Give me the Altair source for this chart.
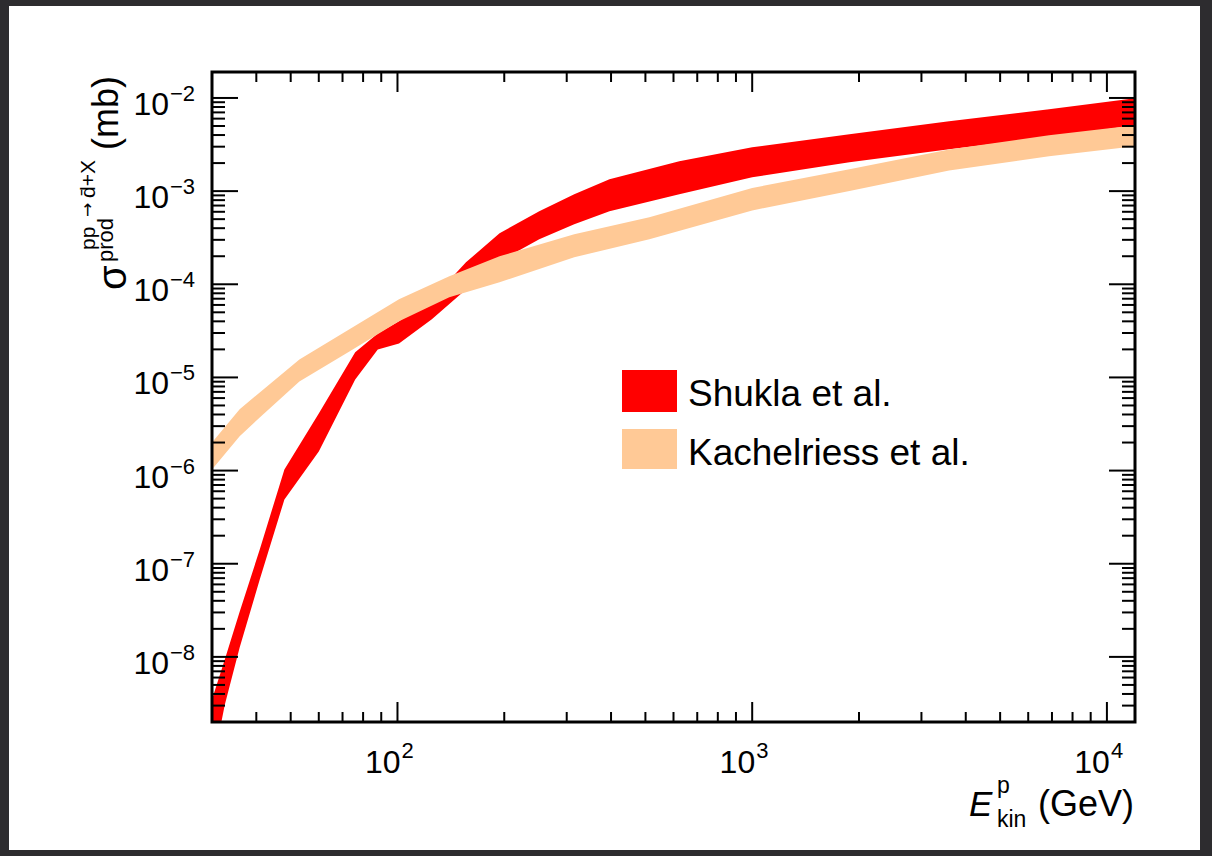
import altair as alt
import pandas as pd

SERIES = ["Shukla et al.", "Kachelriess et al."]
COLORS = ["#ff0000", "#ffc996"]

# Shukla et al. band (E in GeV, sigma in mb)
SH_E = [30, 32.6, 35.9, 40.9, 48, 60, 76, 88, 101, 125, 156, 194, 251, 315, 396, 623, 1000, 1880, 3590, 6870, 12000]
SH_HI = [3.48e-9, 9.35e-9, 3.06e-8, 1.42e-7, 1.03e-6, 4.11e-6, 1.86e-5, 2.97e-5, 4.0e-5, 6.9e-5, 1.72e-4,
         3.53e-4, 6.08e-4, 9.26e-4, 1.34e-3, 2.09e-3, 2.96e-3, 4.08e-3, 5.64e-3, 7.58e-3, 9.95e-3]
SH_LO = [6.2e-10, 3.07e-9, 1.26e-8, 6.76e-8, 4.9e-7, 1.6e-6, 9.5e-6, 2.0e-5, 2.32e-5, 4.2e-5, 8.8e-5,
         1.77e-4, 3.04e-4, 4.41e-4, 6.08e-4, 9.26e-4, 1.41e-3, 2.04e-3, 2.82e-3, 3.79e-3, 5.1e-3]

# Kachelriess et al. band
KA_E = [30, 35.9, 40.9, 52.9, 73.2, 101, 140, 194, 315, 513, 1000, 1880, 3590, 6870, 12000]
KA_HI = [2.0e-6, 4.54e-6, 6.9e-6, 1.56e-5, 3.28e-5, 6.9e-5, 1.22e-4, 2.0e-4, 3.44e-4, 5.24e-4,
         1.08e-3, 1.72e-3, 2.8e-3, 3.98e-3, 5.1e-3]
KA_LO = [1.03e-6, 2.33e-6, 3.72e-6, 9.06e-6, 1.9e-5, 4.0e-5, 7.24e-5, 1.05e-4, 1.95e-4, 3.04e-4,
         6.2e-4, 1.0e-3, 1.66e-3, 2.37e-3, 3.03e-3]

X_DOMAIN = [30, 12000]
Y_DOMAIN = [2e-9, 1.9e-2]
X_MAJOR = [100, 1000, 10000]
X_EXP = ["2", "3", "4"]
Y_MAJOR = [1e-2, 1e-3, 1e-4, 1e-5, 1e-6, 1e-7, 1e-8]
Y_EXP = ["\u22122", "\u22123", "\u22124", "\u22125", "\u22126", "\u22127", "\u22128"]
X_MINOR = [m * 10 ** d for d in (1, 2, 3) for m in range(2, 10) if X_DOMAIN[0] < m * 10 ** d < X_DOMAIN[1]]
Y_MINOR = [m * 10.0 ** d for d in range(-9, -1) for m in range(2, 10) if Y_DOMAIN[0] * 1.0001 < m * 10.0 ** d < Y_DOMAIN[1]]

W, H = 923, 650
FONT = "Liberation Sans"

xs = alt.Scale(type="log", domain=X_DOMAIN, nice=False)
ys = alt.Scale(type="log", domain=Y_DOMAIN, nice=False)
cs = alt.Scale(domain=SERIES, range=COLORS)

one = pd.DataFrame({"a": [0]})

panel = alt.Chart(one).mark_rect(color="white").encode(
    x=alt.value(-203), x2=alt.value(988), y=alt.value(-66), y2=alt.value(778))

def band(E, hi, lo, name):
    df = pd.DataFrame({"E": E, "hi": hi, "lo": lo, "series": name})
    return alt.Chart(df).mark_area(clip=True, opacity=1).encode(
        x=alt.X("E:Q", scale=xs, axis=None),
        y=alt.Y("hi:Q", scale=ys, axis=None),
        y2="lo:Q",
        color=alt.Color("series:N", scale=cs, legend=None),
    )

red = band(SH_E, SH_HI, SH_LO, SERIES[0])
peach = band(KA_E, KA_HI, KA_LO, SERIES[1])

def xticks(vals, length, bottom):
    df = pd.DataFrame({"v": vals})
    y0, y1 = (H, H - length) if bottom else (0, length)
    return alt.Chart(df).mark_rule(color="black", strokeWidth=2).encode(
        x=alt.X("v:Q", scale=xs, axis=None), y=alt.value(y0), y2=alt.value(y1))

def yticks(vals, length, left):
    df = pd.DataFrame({"v": vals})
    x0, x1 = (0, length) if left else (W, W - length)
    return alt.Chart(df).mark_rule(color="black", strokeWidth=2).encode(
        y=alt.Y("v:Q", scale=ys, axis=None), x=alt.value(x0), x2=alt.value(x1))

ticks = [
    xticks(X_MAJOR, 20, True), xticks(X_MINOR, 10, True),
    xticks(X_MAJOR, 20, False), xticks(X_MINOR, 10, False),
    yticks(Y_MAJOR, 26, True), yticks(Y_MINOR, 13, True),
    yticks(Y_MAJOR, 26, False), yticks(Y_MINOR, 13, False),
]

frame = alt.Chart(one).mark_rect(filled=False, stroke="black", strokeWidth=3).encode(
    x=alt.value(0), x2=alt.value(W), y=alt.value(0), y2=alt.value(H))

ylab = pd.DataFrame({"v": Y_MAJOR, "e": Y_EXP})
ylab10 = alt.Chart(ylab).mark_text(font=FONT, fontSize=32, align="right", baseline="alphabetic", dy=17).encode(
    y=alt.Y("v:Q", scale=ys, axis=None), x=alt.value(-43), text=alt.value("10"))
ylabe = alt.Chart(ylab).mark_text(font=FONT, fontSize=22, align="left", baseline="alphabetic", dy=3).encode(
    y=alt.Y("v:Q", scale=ys, axis=None), x=alt.value(-42), text="e:N")

xlab = pd.DataFrame({"v": X_MAJOR, "e": X_EXP})
xlab10 = alt.Chart(xlab).mark_text(font=FONT, fontSize=32, align="right", baseline="alphabetic", dx=3).encode(
    x=alt.X("v:Q", scale=xs, axis=None), y=alt.value(701), text=alt.value("10"))
xlabe = alt.Chart(xlab).mark_text(font=FONT, fontSize=22, align="left", baseline="alphabetic", dx=4).encode(
    x=alt.X("v:Q", scale=xs, axis=None), y=alt.value(686), text="e:N")

def txt(s, x, y, size, angle=0, align="left", style="normal", font=FONT):
    return alt.Chart(one).mark_text(font=font, fontSize=size, align=align, baseline="alphabetic",
                                    angle=angle, fontStyle=style).encode(
        x=alt.value(x), y=alt.value(y), text=alt.value(s))

titles = [
    txt("\u03c3", -86, 218, 40, 270),
    txt("pp", -117, 178, 21, 270),
    txt("\u2192", -119, 145, 17, 270, font="DejaVu Sans"),
    txt("d\u0304+X", -117, 126, 21, 270),
    txt("prod", -99, 190, 22, 270),
    txt("(mb)", -94, 78, 36, 270),
    txt("E", 757, 744, 35, 0, "left", "italic"),
    txt("p", 785, 721, 23),
    txt("kin", 785, 755, 23),
    txt("(GeV)", 922, 744, 36, 0, "right"),
]

legend = []
for i, (name, ytop, ybot, base) in enumerate([(SERIES[0], 298, 340, 334), (SERIES[1], 357, 397, 393)]):
    d = pd.DataFrame({"series": [name]})
    legend.append(alt.Chart(d).mark_rect(opacity=1).encode(
        x=alt.value(410), x2=alt.value(465), y=alt.value(ytop), y2=alt.value(ybot),
        color=alt.Color("series:N", scale=cs, legend=None)))
    legend.append(alt.Chart(d).mark_text(font=FONT, fontSize=37, align="left", baseline="alphabetic").encode(
        x=alt.value(476), y=alt.value(base), text="series:N"))

chart = alt.layer(panel, red, peach, *ticks, frame, ylab10, ylabe, xlab10, xlabe, *titles, *legend).properties(
    width=W, height=H, background="#2d2c2f",
    padding={"left": 212, "top": 72, "right": 77, "bottom": 134},
    autosize=alt.AutoSizeParams(type="none"),
).configure_view(strokeWidth=0)

chart.save("out.html", embed_options={"renderer": "svg", "actions": False})
